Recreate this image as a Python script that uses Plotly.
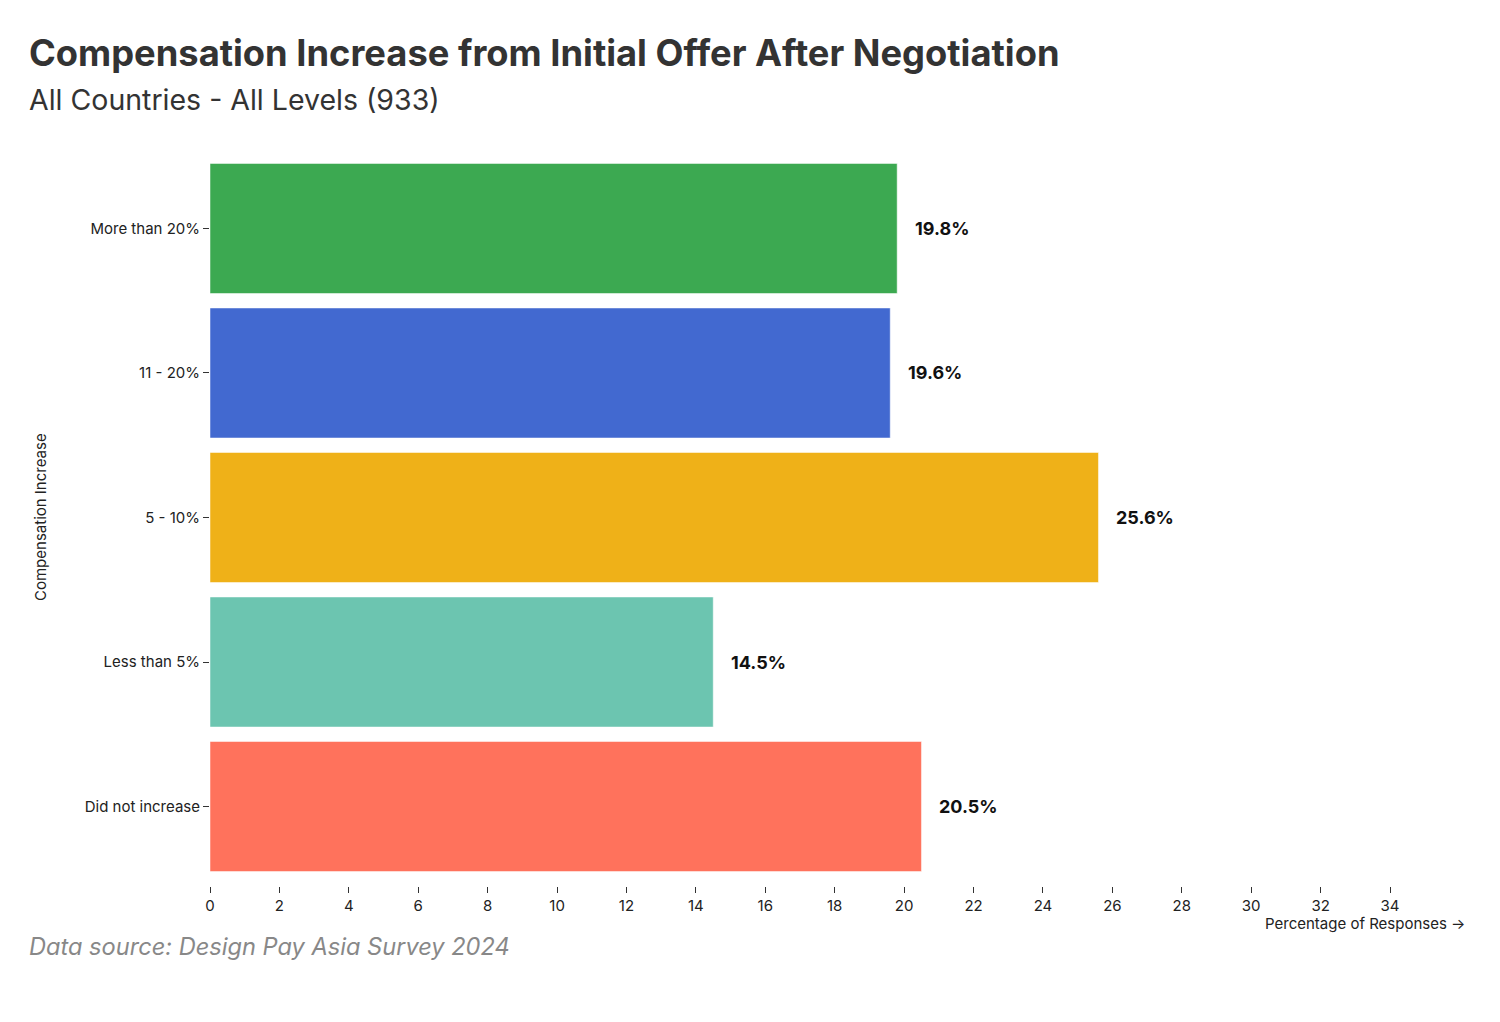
import plotly.graph_objects as go

categories = ["More than 20%", "11 - 20%", "5 - 10%", "Less than 5%", "Did not increase"]
values = [19.8, 19.6, 25.6, 14.5, 20.5]
colors = ["#3ca951", "#4269d0", "#efb118", "#6cc5b0", "#ff725c"]
x_ticks = list(range(0, 35, 2))

FONT = "Inter, Roboto, sans-serif"
OFF = 8  # page body margin
W, H = 1500, 1022
L = 210 - OFF
T = 148.5 - OFF
R = W - (1465 - OFF)
B = H - (886.5 - OFF)
PW = W - L - R
PH = H - T - B

def px(x):
    return (x - OFF - L) / PW

def py(y):
    return (H - B - (y - OFF)) / PH

fig = go.Figure()
fig.add_trace(go.Bar(
    y=categories, x=values, orientation="h",
    marker=dict(color=colors, line=dict(color="rgba(255,255,255,0.5)", width=1)),
    width=0.9, hoverinfo="x+y",
))

annotations = []
for c, v in zip(categories, values):
    annotations.append(dict(
        x=v, y=c, xref="x", yref="y", text=f"<b>{v:.1f}%</b>",
        showarrow=False, xanchor="left", yanchor="middle", xshift=16,
        font=dict(family=FONT, size=18, color="#111"),
    ))

annotations += [
    dict(x=px(27), y=py(52), xref="paper", yref="paper", xanchor="left", yanchor="middle",
         text="<b>Compensation Increase from Initial Offer After Negotiation</b>", showarrow=False,
         font=dict(family=FONT, size=36.3, color="#333")),
    dict(x=px(27), y=py(99), xref="paper", yref="paper", xanchor="left", yanchor="middle",
         text="All Countries - All Levels (933)", showarrow=False,
         font=dict(family=FONT, size=28.5, color="#333")),
    dict(x=px(27), y=py(947), xref="paper", yref="paper", xanchor="left", yanchor="middle",
         text="<i>Data source: Design Pay Asia Survey 2024</i>", showarrow=False,
         font=dict(family=FONT, size=23.6, color="#888")),
    dict(x=px(1467), y=py(924), xref="paper", yref="paper", xanchor="right", yanchor="middle",
         text="Percentage of Responses →", showarrow=False,
         font=dict(family=FONT, size=15, color="#222")),
    dict(x=px(40), y=py(517), xref="paper", yref="paper", xanchor="center", yanchor="middle",
         text="Compensation Increase", showarrow=False, textangle=-90,
         font=dict(family=FONT, size=15, color="#222")),
]

fig.update_layout(
    width=W, height=H,
    margin=dict(l=L, r=R, t=T, b=B, autoexpand=False),
    paper_bgcolor="white", plot_bgcolor="white",
    showlegend=False,
    annotations=annotations,
    xaxis=dict(range=[0, (1465 - 210) / ((1390 - 210) / 34)], tickvals=x_ticks,
               ticks="outside", ticklen=6, tickcolor="#333", showgrid=False,
               zeroline=False, showline=False,
               tickfont=dict(family=FONT, size=15, color="#222")),
    yaxis=dict(categoryorder="array", categoryarray=categories, autorange=False,
               range=[4.55, -0.55], ticks="outside", ticklen=6, tickcolor="#333",
               showgrid=False, zeroline=False, showline=False,
               tickfont=dict(family=FONT, size=15, color="#222")),
)

fig.write_html("out.html")
